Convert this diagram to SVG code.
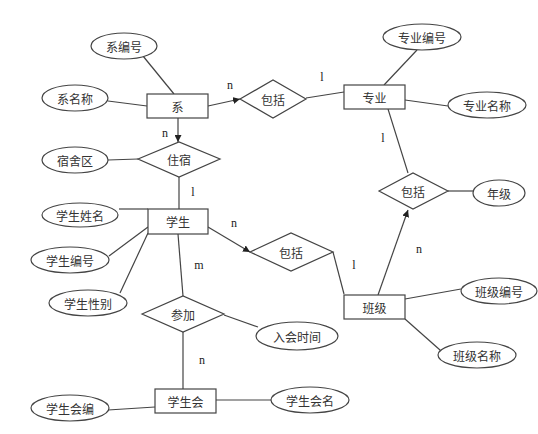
<svg xmlns="http://www.w3.org/2000/svg" width="538" height="434" viewBox="0 0 538 434">
<defs>
<marker id="arr" viewBox="0 0 10 10" refX="10" refY="5" markerWidth="7" markerHeight="7" markerUnits="userSpaceOnUse" orient="auto">
<path d="M0,0 L10,5 L0,10 z" fill="#222"/>
</marker>
<style>
.s{fill:#fff;stroke:#444;stroke-width:1.2}
.l{stroke:#444;stroke-width:1.2;fill:none}
.t{font-family:"Noto Sans CJK SC","Noto Sans",sans-serif;font-size:12px;fill:#333;text-anchor:middle;dominant-baseline:central}
.c{font-family:"Liberation Serif",serif;font-size:12px;fill:#222;text-anchor:middle;dominant-baseline:central}
</style>
</defs>
<rect width="538" height="434" fill="#fff"/>
<g id="connectors">
<line class="l" x1="143" y1="56" x2="174" y2="94"/>
<line class="l" x1="108" y1="101" x2="147" y2="106"/>
<line class="l" x1="208" y1="106" x2="240" y2="99" marker-end="url(#arr)"/>
<line class="l" x1="178" y1="118" x2="178" y2="142" marker-end="url(#arr)"/>
<line class="l" x1="108" y1="160" x2="138" y2="159"/>
<line class="l" x1="179" y1="177" x2="179" y2="209"/>
<line class="l" x1="119" y1="209" x2="148" y2="209"/>
<line class="l" x1="109" y1="256" x2="148" y2="227"/>
<line class="l" x1="120" y1="293" x2="148" y2="233"/>
<line class="l" x1="208" y1="227" x2="250" y2="252" marker-end="url(#arr)"/>
<line class="l" x1="178" y1="234" x2="183" y2="296"/>
<line class="l" x1="224" y1="315" x2="258" y2="327"/>
<line class="l" x1="183" y1="332" x2="183" y2="389"/>
<line class="l" x1="108" y1="410" x2="155" y2="407"/>
<line class="l" x1="216" y1="400" x2="271" y2="400"/>
<line class="l" x1="417" y1="50" x2="384" y2="85"/>
<line class="l" x1="306" y1="98" x2="344" y2="92"/>
<line class="l" x1="405" y1="100" x2="448" y2="106"/>
<line class="l" x1="388" y1="109" x2="408" y2="173"/>
<line class="l" x1="448" y1="191" x2="473" y2="191"/>
<line class="l" x1="378" y1="295" x2="408" y2="210" marker-end="url(#arr)"/>
<line class="l" x1="333" y1="252" x2="344" y2="294"/>
<line class="l" x1="405" y1="299" x2="461" y2="289"/>
<line class="l" x1="405" y1="319" x2="440" y2="350"/>
<text class="c" x="230" y="85">n</text>
<text class="c" x="165" y="133">n</text>
<text class="c" x="193" y="192">l</text>
<text class="c" x="234" y="223">n</text>
<text class="c" x="199" y="265">m</text>
<text class="c" x="202" y="360">n</text>
<text class="c" x="322" y="77">l</text>
<text class="c" x="383" y="138">l</text>
<text class="c" x="419" y="249">n</text>
<text class="c" x="354" y="265">l</text>
</g>
<g id="xi"><rect class="s" x="147" y="94" width="61" height="24"/><text class="t" x="177.5" y="106">系</text></g>
<g id="zhuanye"><rect class="s" x="344" y="85" width="61" height="24"/><text class="t" x="374.5" y="97">专业</text></g>
<g id="xuesheng"><rect class="s" x="148" y="209" width="60" height="25"/><text class="t" x="178" y="221.5">学生</text></g>
<g id="banji"><rect class="s" x="344" y="295" width="61" height="24"/><text class="t" x="374.5" y="307">班级</text></g>
<g id="xueshenghui"><rect class="s" x="155" y="389" width="61" height="24"/><text class="t" x="185.5" y="401">学生会</text></g>
<g id="baokuo1"><polygon class="s" points="240,99 273,80 306,99 273,118"/><text class="t" x="273" y="99">包括</text></g>
<g id="zhusu"><polygon class="s" points="138,159 179,142 220,159 179,177"/><text class="t" x="179" y="159">住宿</text></g>
<g id="baokuo2"><polygon class="s" points="379,191 413,173 448,191 413,209"/><text class="t" x="413" y="191">包括</text></g>
<g id="baokuo3"><polygon class="s" points="250,252 291,233 333,252 291,271"/><text class="t" x="291" y="252">包括</text></g>
<g id="canjia"><polygon class="s" points="142,314 183,296 224,314 183,332"/><text class="t" x="183" y="314">参加</text></g>
<g id="xibianhao"><ellipse class="s" cx="124" cy="46" rx="33" ry="13"/><text class="t" x="124" y="46">系编号</text></g>
<g id="ximingcheng"><ellipse class="s" cx="75" cy="98" rx="33" ry="13"/><text class="t" x="75" y="98">系名称</text></g>
<g id="sushequ"><ellipse class="s" cx="75" cy="160" rx="33" ry="13"/><text class="t" x="75" y="160">宿舍区</text></g>
<g id="xingming"><ellipse class="s" cx="80" cy="215" rx="38" ry="12"/><text class="t" x="80" y="215">学生姓名</text></g>
<g id="xsbianhao"><ellipse class="s" cx="70" cy="260" rx="39" ry="13"/><text class="t" x="70" y="260">学生编号</text></g>
<g id="xingbie"><ellipse class="s" cx="88" cy="303" rx="39" ry="13"/><text class="t" x="88" y="303">学生性别</text></g>
<g id="ruhuishijian"><ellipse class="s" cx="297" cy="336" rx="41" ry="14"/><text class="t" x="297" y="336">入会时间</text></g>
<g id="xshbian"><ellipse class="s" cx="70" cy="408" rx="39" ry="13"/><text class="t" x="70" y="408">学生会编</text></g>
<g id="xshming"><ellipse class="s" cx="310" cy="400" rx="39" ry="13"/><text class="t" x="310" y="400">学生会名</text></g>
<g id="zybianhao"><ellipse class="s" cx="422" cy="37" rx="39" ry="13"/><text class="t" x="422" y="37">专业编号</text></g>
<g id="zymingcheng"><ellipse class="s" cx="487" cy="105" rx="39" ry="13"/><text class="t" x="487" y="105">专业名称</text></g>
<g id="nianji"><ellipse class="s" cx="499" cy="193" rx="26" ry="13"/><text class="t" x="499" y="193">年级</text></g>
<g id="bjbianhao"><ellipse class="s" cx="499" cy="291" rx="38" ry="13"/><text class="t" x="499" y="291">班级编号</text></g>
<g id="bjmingcheng"><ellipse class="s" cx="477" cy="355" rx="39" ry="13"/><text class="t" x="477" y="355">班级名称</text></g>
</svg>
